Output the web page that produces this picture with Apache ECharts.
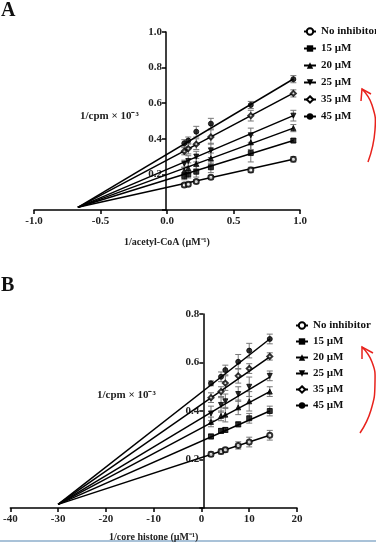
<!DOCTYPE html>
<html>
<head>
    <meta charset="utf-8">
    <script src="https://cdn.jsdelivr.net/npm/echarts@6/dist/echarts.min.js"></script>
    <title>Lineweaver-Burk plots</title>
    <style>
        html, body { margin: 0; padding: 0; background: #fff; }
        #main { width: 376px; height: 543px; }
    </style>
</head>
<body>
    <div id="main"></div>
    <script type="text/javascript">
        var names = ['No inhibitor', '15 \u00b5M', '20 \u00b5M', '25 \u00b5M', '35 \u00b5M', '45 \u00b5M'];
        var symbols = ['emptyCircle', 'rect', 'triangle', 'triangle', 'emptyDiamond', 'circle'];
        var rotations = [0, 0, 0, 180, 0, 0];

        // panel A: 1/acetyl-CoA
        var xA = [0.13, 0.16, 0.22, 0.33, 0.63, 0.95];
        var yA = [
            [0.14, 0.145, 0.16, 0.184, 0.225, 0.285],
            [0.19, 0.20, 0.215, 0.24, 0.32, 0.39],
            [0.22, 0.235, 0.26, 0.29, 0.38, 0.46],
            [0.26, 0.275, 0.30, 0.335, 0.42, 0.53],
            [0.33, 0.345, 0.37, 0.41, 0.53, 0.655],
            [0.375, 0.39, 0.44, 0.485, 0.59, 0.735]
        ];
        var errA = [
            [0.01, 0.01, 0.01, 0.01, 0.015, 0.015],
            [0.02, 0.02, 0.03, 0.03, 0.05, 0.01],
            [0.02, 0.03, 0.03, 0.03, 0.04, 0.02],
            [0.02, 0.03, 0.03, 0.04, 0.04, 0.03],
            [0.02, 0.03, 0.03, 0.04, 0.03, 0.02],
            [0.02, 0.02, 0.03, 0.03, 0.02, 0.02]
        ];
        var fitA = { x0: -0.67, y0: 0.015, x1: 0.95, y1: [0.285, 0.39, 0.46, 0.53, 0.657, 0.736] };

        // panel B: 1/core histone
        var xB = [2.0, 4.1, 5.0, 7.7, 10, 14.3];
        var yB = [
            [0.222, 0.233, 0.24, 0.258, 0.272, 0.30],
            [0.295, 0.318, 0.322, 0.345, 0.37, 0.40],
            [0.355, 0.38, 0.385, 0.415, 0.44, 0.48],
            [0.39, 0.425, 0.44, 0.47, 0.50, 0.545],
            [0.455, 0.48, 0.515, 0.545, 0.575, 0.625],
            [0.514, 0.541, 0.569, 0.603, 0.649, 0.697]
        ];
        var errB = [
            [0.01, 0.01, 0.01, 0.015, 0.02, 0.02],
            [0.01, 0.01, 0.01, 0.01, 0.02, 0.02],
            [0.02, 0.02, 0.03, 0.03, 0.04, 0.02],
            [0.03, 0.03, 0.03, 0.03, 0.04, 0.02],
            [0.02, 0.02, 0.03, 0.03, 0.02, 0.015],
            [0.01, 0.02, 0.02, 0.03, 0.03, 0.02]
        ];
        var fitB = { x0: -30, y0: 0.015, x1: 14.3, y1: [0.30, 0.40, 0.48, 0.54, 0.623, 0.697] };

        var font = 'Liberation Serif';
        var labelStyle = { fontFamily: font, fontWeight: 'bold', fontSize: 11, color: '#222' };
        var blackLine = { color: '#000', width: 1.5 };

        function errorBars(params, api) {
            var top = api.coord([api.value(0), api.value(2)]);
            var bot = api.coord([api.value(0), api.value(1)]);
            var w = 3;
            var st = { stroke: '#777', lineWidth: 1 };
            return {
                type: 'group',
                children: [
                    { type: 'line', shape: { x1: top[0], y1: top[1], x2: bot[0], y2: bot[1] }, style: st },
                    { type: 'line', shape: { x1: top[0] - w, y1: top[1], x2: top[0] + w, y2: top[1] }, style: st },
                    { type: 'line', shape: { x1: bot[0] - w, y1: bot[1], x2: bot[0] + w, y2: bot[1] }, style: st }
                ]
            };
        }

        function panelSeries(idx, xs, ys, errs, fit) {
            var out = [];
            for (var i = 0; i < names.length; i++) {
                out.push({
                    name: names[i],
                    type: 'line',
                    xAxisIndex: idx, yAxisIndex: idx,
                    data: [[fit.x0, fit.y0], [fit.x1, fit.y1[i]]],
                    symbol: symbols[i],
                    symbolRotate: rotations[i],
                    showSymbol: false,
                    itemStyle: { color: '#000' },
                    lineStyle: blackLine,
                    z: 2
                });
            }
            for (var i = 0; i < names.length; i++) {
                out.push({
                    name: names[i] + ' err',
                    type: 'custom',
                    xAxisIndex: idx, yAxisIndex: idx,
                    renderItem: errorBars,
                    data: xs.map(function (x, j) { return [x, ys[i][j] - errs[i][j], ys[i][j] + errs[i][j]]; }),
                    z: 1
                });
                out.push({
                    name: names[i] + ' pts',
                    type: 'scatter',
                    xAxisIndex: idx, yAxisIndex: idx,
                    data: xs.map(function (x, j) { return [x, ys[i][j]]; }),
                    symbol: symbols[i],
                    symbolRotate: rotations[i],
                    symbolSize: 5,
                    itemStyle: { color: '#000', borderColor: '#000', borderWidth: 1 },
                    z: 3
                });
            }
            return out;
        }

        var myChart = echarts.init(document.getElementById('main'));

        var legendBase = {
            orient: 'vertical',
            data: names,
            itemWidth: 12,
            itemHeight: 8,
            textStyle: { fontFamily: font, fontWeight: 'bold', fontSize: 11, color: '#111' },
            selectedMode: false
        };

        function yLabel(v) { return v === 0 ? '' : v.toFixed(1); }

        myChart.setOption({
            animation: false,
            backgroundColor: '#fff',
            legend: [
                Object.assign({}, legendBase, { left: 298, top: 21, itemGap: 6 }),
                Object.assign({}, legendBase, { left: 290, top: 315, itemGap: 5 })
            ],
            grid: [
                { left: 34, right: 76, top: 32, height: 178 },
                { left: 8, right: 79, top: 314, height: 194 }
            ],
            xAxis: [{
                type: 'value', gridIndex: 0, min: -1, max: 1, interval: 0.5,
                axisLine: { onZero: false, lineStyle: blackLine },
                axisTick: { length: 4, lineStyle: blackLine },
                axisLabel: Object.assign({ margin: 6, formatter: function (v) { return v.toFixed(1); } }, labelStyle),
                splitLine: { show: false },
                name: '1/acetyl-CoA (\u00b5M\u207b\u00b9)',
                nameLocation: 'middle', nameGap: 27,
                nameTextStyle: { fontFamily: font, fontWeight: 'bold', fontSize: 10, color: '#222' }
            }, {
                type: 'value', gridIndex: 1, min: -40, max: 20, interval: 10,
                axisLine: { onZero: false, lineStyle: blackLine },
                axisTick: { length: 4, lineStyle: blackLine },
                axisLabel: Object.assign({ margin: 6 }, labelStyle),
                splitLine: { show: false },
                name: '1/core histone (\u00b5M\u207b\u00b9)',
                nameLocation: 'middle', nameGap: 24,
                nameTextStyle: { fontFamily: font, fontWeight: 'bold', fontSize: 10, color: '#222' }
            }],
            yAxis: [{
                type: 'value', gridIndex: 0, min: 0, max: 1, interval: 0.2,
                position: 'left', offset: -132,
                axisLine: { onZero: false, lineStyle: blackLine },
                axisTick: { length: 4, lineStyle: blackLine },
                axisLabel: Object.assign({ margin: 4, formatter: yLabel }, labelStyle),
                splitLine: { show: false }
            }, {
                type: 'value', gridIndex: 1, min: 0, max: 0.8, interval: 0.2,
                position: 'left', offset: -193,
                axisLine: { onZero: false, lineStyle: blackLine },
                axisTick: { length: 4, lineStyle: blackLine },
                axisLabel: Object.assign({ margin: 4, formatter: yLabel }, labelStyle),
                splitLine: { show: false }
            }],
            graphic: [
                { type: 'text', left: 1, top: 1, style: { text: 'A', font: 'bold 20px "Liberation Serif"', fill: '#111' } },
                { type: 'text', left: 1, top: 276, style: { text: 'B', font: 'bold 20px "Liberation Serif"', fill: '#111' } },
                { type: 'text', left: 80, top: 111, style: { text: '1/cpm \u00d7 10\u207b\u00b3', font: 'bold 11px "Liberation Serif"', fill: '#222' } },
                { type: 'text', left: 97, top: 390, style: { text: '1/cpm \u00d7 10\u207b\u00b3', font: 'bold 11px "Liberation Serif"', fill: '#222' } },
                { type: 'polyline', shape: { points: [[362, 89], [372, 105], [375, 130], [368, 162]], smooth: 0.5 }, style: { stroke: '#e8221c', lineWidth: 1.5, fill: null } },
                { type: 'polyline', shape: { points: [[361, 101], [362, 89], [371, 94]] }, style: { stroke: '#e8221c', lineWidth: 1.5, fill: null } },
                { type: 'polyline', shape: { points: [[362, 347], [372, 362], [375, 382], [371, 410], [360, 433]], smooth: 0.5 }, style: { stroke: '#e8221c', lineWidth: 1.5, fill: null } },
                { type: 'polyline', shape: { points: [[362, 359], [362, 347], [373, 353]] }, style: { stroke: '#e8221c', lineWidth: 1.5, fill: null } },
                { type: 'line', shape: { x1: 0, y1: 541, x2: 376, y2: 541 }, style: { stroke: '#a9c2d8', lineWidth: 2 } }
            ],
            series: panelSeries(0, xA, yA, errA, fitA).concat(panelSeries(1, xB, yB, errB, fitB))
        });
    </script>
</body>
</html>
